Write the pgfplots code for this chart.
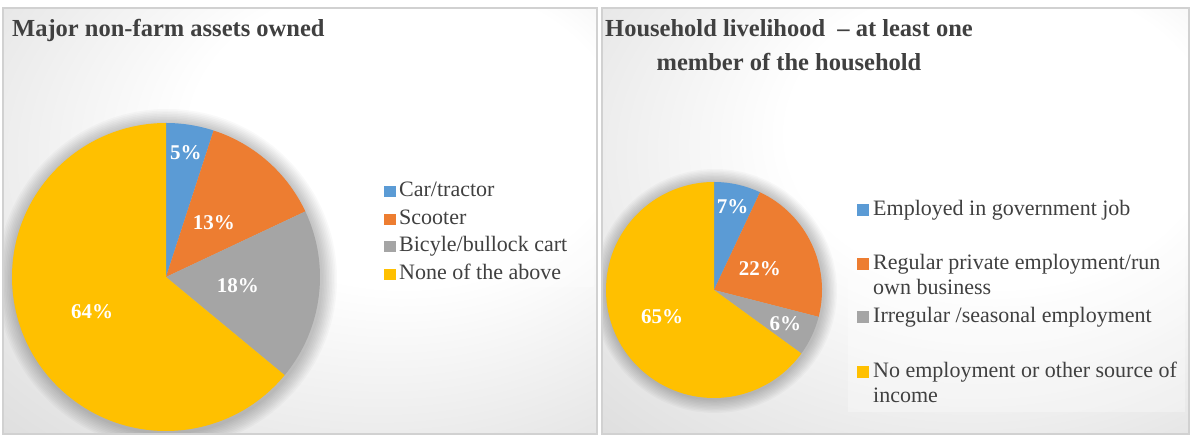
\documentclass[border=0pt]{standalone}
\usepackage{pgfplots}
\pgfplotsset{compat=1.18}
\usepackage{pgfplotstable}
\usepackage{fontspec}
\setmainfont{Liberation Serif}

\definecolor{c0}{HTML}{5B9BD5}
\definecolor{c1}{HTML}{ED7D31}
\definecolor{c2}{HTML}{A5A5A5}
\definecolor{c3}{HTML}{FFC000}
\definecolor{txt}{HTML}{404040}

% value = share in percent, lr = label distance from centre (fraction of radius)
\pgfplotstableread{
label value lr
Car/tractor 5 0.82
Scooter 13 0.47
Bicyle/bullock_cart 18 0.47
None_of_the_above 64 0.53
}\pieA

\pgfplotstableread{
label value lr
Government_job 7 0.79
Private_employment 22 0.47
Irregular 6 0.73
No_employment 65 0.54
}\pieB

\newcommand\pielabelfont{\fontsize{21}{25}\selectfont\bfseries}
\newcommand\legfont{\fontsize{22}{26}\selectfont}
\newcommand\titfont{\fontsize{24.5}{29}\selectfont\bfseries}

\newcommand\drawpie[2]{%
  \pgfplotstablegetrowsof{#1}%
  \pgfmathtruncatemacro\lastrow{\pgfplotsretval-1}%
  \def\cum{0}%
  \pgfplotsforeachungrouped \i in {0,...,\lastrow}{%
    \pgfplotstablegetelem{\i}{value}\of{#1}\let\v\pgfplotsretval%
    \pgfplotstablegetelem{\i}{lr}\of{#1}\let\lr\pgfplotsretval%
    \pgfmathsetmacro\a{90-3.6*\cum}%
    \pgfmathsetmacro\b{90-3.6*(\cum+\v)}%
    \pgfmathsetmacro\m{(\a+\b)/2}%
    \pgfmathsetmacro\cx{cos(\a)}%
    \pgfmathsetmacro\cy{sin(\a)}%
    \pgfmathsetmacro\lx{\lr*cos(\m)}%
    \pgfmathsetmacro\ly{\lr*sin(\m)}%
    \edef\tmp{\noexpand\fill[c\i] (axis cs:0,0) -- (axis cs:\cx,\cy) arc[start angle=\a, end angle=\b, radius=#2] -- cycle;%
      \noexpand\node[text=white, font=\noexpand\pielabelfont] at (axis cs:\lx,\ly) {\v\noexpand\%};}%
    \tmp%
    \pgfmathsetmacro\cum{\cum+\v}%
  }%
}

\pgfdeclareradialshading{panelbg}{\pgfpoint{12bp}{14bp}}{color(0bp)=(white); color(18bp)=(white); color(68bp)=(black!26)}

\begin{document}
\begin{tikzpicture}
\useasboundingbox (0pt,0pt) rectangle (1190pt,435pt);
% panels
\shade[shading=panelbg] (3pt,1pt) rectangle (597pt,427pt);
\shade[shading=panelbg] (602pt,1pt) rectangle (1189pt,427pt);

% soft shadows behind the pies
\begin{scope}
\clip (3pt,1pt) rectangle (597pt,427pt);
\foreach \k in {0,...,9} \fill[black, opacity=0.022] (167pt,156pt) circle[radius={170pt-1.6pt*\k}];
\end{scope}
\begin{scope}
\clip (602pt,1pt) rectangle (1189pt,427pt);
\foreach \k in {0,...,9} \fill[black, opacity=0.022] (715pt,144pt) circle[radius={122pt-1.4pt*\k}];
\end{scope}

% legend boxes
\fill[white, opacity=0.3] (372pt,148pt) rectangle (594pt,265pt);
\fill[white, opacity=0.3] (848pt,23pt) rectangle (1185pt,242pt);

\draw[black!18, line width=1.2pt] (3pt,1pt) rectangle (597pt,427pt);
\draw[black!18, line width=1.2pt] (602pt,1pt) rectangle (1189pt,427pt);

% titles
\node[anchor=base west, inner sep=0, text=txt, font=\titfont] at (12pt,398pt) {Major non-farm assets owned};
\node[anchor=base, inner sep=0, text=txt, font=\titfont] at (789pt,398pt) {Household livelihood~~– at least one};
\node[anchor=base, inner sep=0, text=txt, font=\titfont] at (789pt,364pt) {member of the household};

% left pie
\begin{axis}[at={(12pt,4pt)}, anchor=south west, width=308pt, height=308pt, scale only axis,
  xmin=-1, xmax=1, ymin=-1, ymax=1, hide axis, clip=false]
\drawpie{\pieA}{154pt}%
\end{axis}

% right pie
\begin{axis}[at={(606pt,37pt)}, anchor=south west, width=216pt, height=216pt, scale only axis,
  xmin=-1, xmax=1, ymin=-1, ymax=1, hide axis, clip=false]
\drawpie{\pieB}{108pt}%
\end{axis}

% left legend
\fill[c0] (384pt,238pt) rectangle (396pt,249pt);
\node[anchor=base west, inner sep=0, text=txt, font=\legfont] at (399pt,238pt) {Car/tractor};
\fill[c1] (384pt,210pt) rectangle (396pt,221pt);
\node[anchor=base west, inner sep=0, text=txt, font=\legfont] at (399pt,210pt) {Scooter};
\fill[c2] (384pt,183pt) rectangle (396pt,194pt);
\node[anchor=base west, inner sep=0, text=txt, font=\legfont] at (399pt,183pt) {Bicyle/bullock cart};
\fill[c3] (384pt,155pt) rectangle (396pt,166pt);
\node[anchor=base west, inner sep=0, text=txt, font=\legfont] at (399pt,155pt) {None of the above};

% right legend
\fill[c0] (857pt,219pt) rectangle (869pt,231pt);
\node[anchor=base west, inner sep=0, text=txt, font=\legfont] at (873pt,219pt) {Employed in government job};
\fill[c1] (857pt,165pt) rectangle (869pt,177pt);
\node[anchor=base west, inner sep=0, text=txt, font=\legfont] at (873pt,165pt) {Regular private employment/run};
\node[anchor=base west, inner sep=0, text=txt, font=\legfont] at (873pt,140pt) {own business};
\fill[c2] (857pt,112pt) rectangle (869pt,124pt);
\node[anchor=base west, inner sep=0, text=txt, font=\legfont] at (873pt,112pt) {Irregular /seasonal employment};
\fill[c3] (857pt,57pt) rectangle (869pt,69pt);
\node[anchor=base west, inner sep=0, text=txt, font=\legfont] at (873pt,57pt) {No employment or other source of};
\node[anchor=base west, inner sep=0, text=txt, font=\legfont] at (873pt,32pt) {income};
\end{tikzpicture}
\end{document}
